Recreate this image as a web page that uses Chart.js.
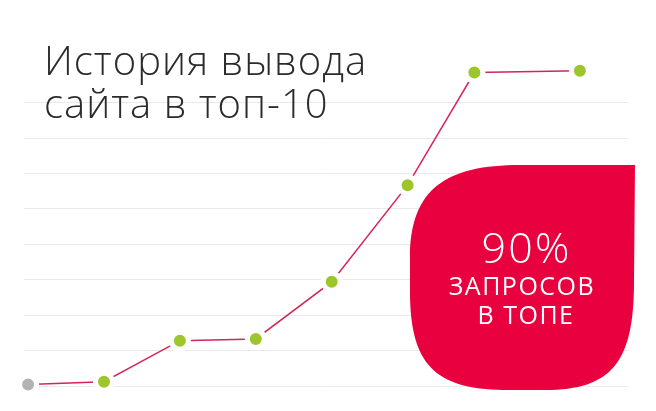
<!DOCTYPE html>
<html>
<head>
<meta charset="utf-8">
<script src="https://cdn.jsdelivr.net/npm/chart.js@4"></script>
<style>
  html, body { margin: 0; padding: 0; background: #ffffff; }
  #wrap { position: relative; width: 656px; height: 411px; overflow: hidden; }
  #c { position: absolute; left: 0; top: 0; }
  .t { position: absolute; white-space: nowrap; font-family: "Open Sans", sans-serif; }
  .title { left: 44px; font-size: 40px; line-height: 40px; font-weight: 300; color: #2b2b2b; letter-spacing: 1px; }
  .badge { left: 412px; width: 225px; text-align: center; color: #ffffff; }
</style>
</head>
<body>
<div id="wrap">
  <canvas id="c" width="656" height="411"></canvas>
  <div class="t title" style="top:39.5px">История вывода</div>
  <div class="t title" style="top:82.5px">сайта в топ-10</div>
  <div class="t badge" style="top:225px;font-size:43px;line-height:43px;font-weight:300;letter-spacing:2px;padding-left:2px">90%</div>
  <div class="t badge" style="top:273px;left:408px;font-size:25px;line-height:25px;font-weight:400;letter-spacing:1.5px;padding-left:1.5px">ЗАПРОСОВ</div>
  <div class="t badge" style="top:302px;font-size:25px;line-height:25px;font-weight:400;letter-spacing:1.5px;padding-left:1.5px">В ТОПЕ</div>
</div>
<script>
// ---- data ----
const xValues = [0, 1, 2, 3, 4, 5, 5.88, 7.27];
const yValues = [0.04, 0.12, 1.28, 1.33, 2.94, 5.67, 8.85, 8.9];
const pointColors = ['#b3b3b3', '#9cc62b', '#9cc62b', '#9cc62b', '#9cc62b', '#9cc62b', '#9cc62b', '#9cc62b'];
const yTicks = [0, 1, 2, 3, 4, 5, 6, 7, 8, 9];

const points = xValues.map((x, i) => ({ x: x, y: yValues[i] }));

const badgePlugin = {
  id: 'badge',
  afterDraw(chart) {
    const ctx = chart.ctx;
    ctx.save();
    ctx.fillStyle = '#e9003e';
    ctx.beginPath();
    ctx.moveTo(635, 165);
    ctx.lineTo(520, 165);
    ctx.bezierCurveTo(447, 165, 410, 188, 410, 258);
    ctx.lineTo(410, 292);
    ctx.bezierCurveTo(410, 370, 440, 390, 510, 390);
    ctx.lineTo(545, 390);
    ctx.bezierCurveTo(612, 390, 634, 362, 634, 282);
    ctx.lineTo(635, 165);
    ctx.closePath();
    ctx.fill();
    ctx.restore();
  }
};

new Chart(document.getElementById('c'), {
  type: 'line',
  data: {
    datasets: [{
      data: points,
      borderColor: '#d6245a',
      borderWidth: 1.5,
      tension: 0,
      fill: false,
      clip: false,
      pointRadius: 8.5,
      pointHoverRadius: 8.5,
      pointBackgroundColor: pointColors,
      pointBorderColor: '#ffffff',
      pointBorderWidth: 5
    }]
  },
  options: {
    responsive: false,
    animation: false,
    events: [],
    layout: { padding: { left: 24.3, right: 28.3, top: 67.2, bottom: 25 } },
    plugins: { legend: { display: false }, tooltip: { enabled: false }, title: { display: false } },
    scales: {
      x: {
        type: 'linear',
        min: -0.05,
        max: 7.9,
        display: true,
        grid: { display: false, drawTicks: false },
        border: { display: false },
        ticks: { display: false }
      },
      y: {
        type: 'linear',
        min: 0,
        max: 9,
        afterBuildTicks(axis) { axis.ticks = yTicks.map(v => ({ value: v })); },
        grid: {
          drawTicks: false,
          lineWidth: 1,
          color: ctx => (ctx.tick && ctx.tick.value === 9) ? 'rgba(0,0,0,0)' : '#e9e9e9'
        },
        border: { display: false },
        ticks: { display: false }
      }
    }
  },
  plugins: [badgePlugin]
});
</script>
</body>
</html>
